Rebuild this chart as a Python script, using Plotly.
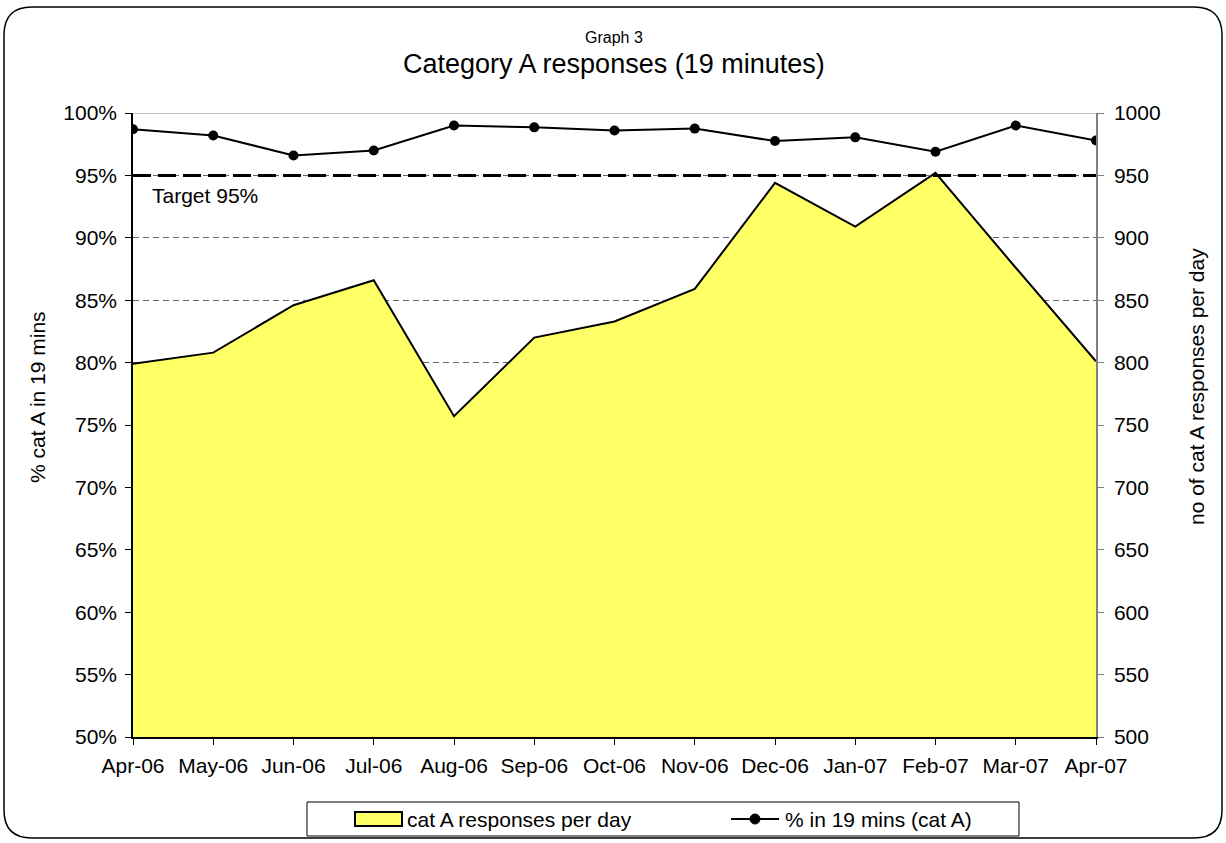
import plotly.graph_objects as go

months = ["Apr-06", "May-06", "Jun-06", "Jul-06", "Aug-06", "Sep-06", "Oct-06",
          "Nov-06", "Dec-06", "Jan-07", "Feb-07", "Mar-07", "Apr-07"]
responses_per_day = [799, 808, 846, 866, 757, 820, 833, 859, 944, 909, 952, 876, 801]
pct_in_19 = [98.7, 98.2, 96.6, 97.0, 99.0, 98.85, 98.6, 98.75, 97.75, 98.05, 96.9, 99.0, 97.8]
target = 95
series_names = ["cat A responses per day", "% in 19 mins (cat A)"]

W, H = 1226, 843
L, R, T, B = 133, 1096, 113, 737
FONT = "Liberation Sans, Arial, sans-serif"
FS = 21

def px(x):
    return (x - L) / (R - L)

def py(y):
    return (B - y) / (B - T)

xs = list(range(len(months)))

fig = go.Figure()
fig.add_trace(go.Scatter(
    x=xs, y=responses_per_day, yaxis="y2", name=series_names[0],
    mode="lines", fill="tozeroy", fillcolor="#FFFF66",
    line=dict(color="black", width=2), showlegend=False,
))
fig.add_trace(go.Scatter(
    x=xs, y=pct_in_19, yaxis="y", name=series_names[1],
    mode="lines+markers", line=dict(color="black", width=2),
    marker=dict(color="black", size=10), showlegend=False,
))

# outer rounded frame
x0, x1, y0, y1, r = 4, 1222, 7, 838, 28
def P(x, y):
    return f"{px(x):.5f},{py(y):.5f}"
path = (f"M {P(x0 + r, y0)} L {P(x1 - r, y0)} Q {P(x1, y0)} {P(x1, y0 + r)} "
        f"L {P(x1, y1 - r)} Q {P(x1, y1)} {P(x1 - r, y1)} "
        f"L {P(x0 + r, y1)} Q {P(x0, y1)} {P(x0, y1 - r)} "
        f"L {P(x0, y0 + r)} Q {P(x0, y0)} {P(x0 + r, y0)} Z")

# legend geometry (pixels)
LG_X0, LG_X1, LG_Y0, LG_Y1 = 307, 1019, 802, 836
LG_CY = (LG_Y0 + LG_Y1) / 2
SYM2 = 755

shapes = [
    dict(type="path", xref="paper", yref="paper", path=path,
         line=dict(color="black", width=1.5), layer="below"),
    dict(type="line", xref="paper", yref="y", x0=0, x1=1, y0=100, y1=100,
         line=dict(color="#808080", width=1), layer="below"),
    dict(type="line", xref="paper", yref="y", x0=0, x1=1, y0=target, y1=target,
         line=dict(color="black", width=3, dash="18px,7px"), layer="above"),
    # legend box
    dict(type="rect", xref="paper", yref="paper", x0=px(LG_X0), x1=px(LG_X1),
         y0=py(LG_Y0), y1=py(LG_Y1), line=dict(color="black", width=1),
         fillcolor="white"),
    # legend swatch: area
    dict(type="rect", xref="paper", yref="paper", x0=px(355), x1=px(402),
         y0=py(LG_CY - 7), y1=py(LG_CY + 7), line=dict(color="black", width=2),
         fillcolor="#FFFF66"),
    # legend swatch: line + marker
    dict(type="line", xref="paper", yref="paper", x0=px(SYM2 - 24), x1=px(SYM2 + 24),
         y0=py(LG_CY), y1=py(LG_CY), line=dict(color="black", width=2)),
    dict(type="circle", xref="paper", yref="paper", x0=px(SYM2 - 5), x1=px(SYM2 + 5),
         y0=py(LG_CY - 5), y1=py(LG_CY + 5), line=dict(color="black", width=1),
         fillcolor="black"),
]

def ann(text, x, y, size=FS, xanchor="center", angle=0):
    return dict(text=text, xref="paper", yref="paper", x=px(x), y=py(y),
                xanchor=xanchor, yanchor="middle", textangle=angle,
                showarrow=False, font=dict(size=size, color="black", family=FONT))

annotations = [
    ann("Graph 3", 614, 38, size=16),
    ann("Category A responses (19 minutes)", 614, 64, size=27),
    ann("Target 95%", 150, 195, xanchor="left"),
    ann("% cat A in 19 mins", 37, 397, angle=-90),
    ann("no of cat A responses per day", 1196, 387, angle=-90),
    ann(series_names[0], 405, LG_CY, xanchor="left"),
    ann(series_names[1], SYM2 + 28, LG_CY, xanchor="left"),
]

fig.update_layout(
    width=W, height=H,
    margin=dict(l=L, r=W - R, t=T, b=H - B, pad=0),
    paper_bgcolor="white", plot_bgcolor="white",
    font=dict(family=FONT, size=FS, color="black"),
    showlegend=False,
    xaxis=dict(range=[0, 12], tickvals=xs, ticktext=months, showgrid=False,
               showline=True, linecolor="black", linewidth=2, ticks="outside",
               ticklen=6, tickcolor="black", zeroline=False, ticklabelstandoff=3,
               tickfont=dict(size=FS)),
    yaxis=dict(range=[50, 100], dtick=5, ticksuffix="%", showgrid=True,
               gridcolor="#666666", griddash="6px,4px", gridwidth=1,
               showline=True, linecolor="black", linewidth=1.5, ticks="outside",
               ticklen=6, tickcolor="black", zeroline=False, ticklabelstandoff=4,
               tickfont=dict(size=FS)),
    yaxis2=dict(range=[500, 1000], dtick=50, overlaying="y", side="right",
                showgrid=False, showline=True, linecolor="#808080", linewidth=1.5,
                ticks="outside", ticklen=6, tickcolor="#808080", zeroline=False,
                ticklabelstandoff=6, tickfont=dict(size=FS)),
    shapes=shapes,
    annotations=annotations,
)

fig.write_html("out.html", config={"displayModeBar": False},
               post_script="document.body.style.margin='0px';")
